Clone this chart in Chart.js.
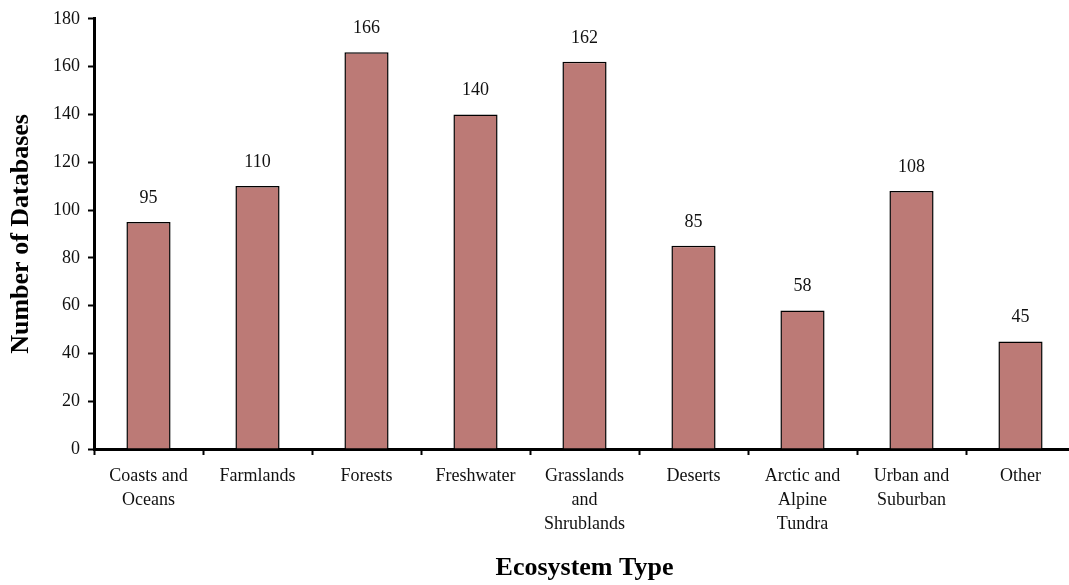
<!DOCTYPE html>
<html>
<head>
<meta charset="utf-8">
<script src="https://cdn.jsdelivr.net/npm/chart.js@4/dist/chart.umd.min.js"></script>
<style>
  html, body { margin: 0; padding: 0; background: #fff; overflow: hidden; }
  #wrap { width: 1076px; height: 585px; }
</style>
</head>
<body>
<div id="wrap"><canvas id="chBar" width="1076" height="585"></canvas></div>
<script>
// chart data
var categories = [
    ['Coasts and', 'Oceans'],
    'Farmlands',
    'Forests',
    'Freshwater',
    ['Grasslands', 'and', 'Shrublands'],
    'Deserts',
    ['Arctic and', 'Alpine', 'Tundra'],
    ['Urban and', 'Suburban'],
    'Other'
];
var databases = [95, 110, 166, 140, 162, 85, 58, 108, 45];
var yTicks = [0, 20, 40, 60, 80, 100, 120, 140, 160, 180];

var serif = "'Liberation Serif', 'Times New Roman', serif";

// value labels above bars
var valueLabels = {
    id: 'valueLabels',
    afterDatasetsDraw: function (chart) {
        var ctx = chart.ctx;
        var meta = chart.getDatasetMeta(0);
        ctx.save();
        ctx.font = '18px ' + serif;
        ctx.fillStyle = '#111';
        ctx.textAlign = 'center';
        ctx.textBaseline = 'middle';
        meta.data.forEach(function (bar, i) {
            ctx.fillText(String(databases[i]), bar.x, bar.y - 24);
        });
        ctx.restore();
    }
};

var barChart = document.getElementById('chBar');
new Chart(barChart, {
    type: 'bar',
    data: {
        labels: categories,
        datasets: [{
            data: databases,
            backgroundColor: '#bc7a76',
            borderColor: '#000',
            borderWidth: 1.5,
            categoryPercentage: 1,
            barPercentage: 0.405
        }]
    },
    options: {
        responsive: false,
        animation: false,
        layout: { padding: { top: 16, right: 1, left: 0, bottom: 0 } },
        plugins: {
            legend: { display: false },
            tooltip: { enabled: false }
        },
        scales: {
            x: {
                offset: true,
                grid: {
                    offset: true,
                    drawOnChartArea: false,
                    drawTicks: true,
                    tickLength: 6,
                    tickColor: '#000',
                    tickWidth: 2
                },
                border: { color: '#000', width: 3 },
                ticks: {
                    color: '#111',
                    padding: 9,
                    maxRotation: 0,
                    autoSkip: false,
                    font: { family: serif, size: 18, lineHeight: 1.333 }
                },
                title: {
                    display: true,
                    text: 'Ecosystem Type',
                    color: '#000',
                    padding: { top: 0, bottom: 1 },
                    font: { family: serif, size: 26, weight: 'bold' }
                },
                afterFit: function (scale) { scale.height = 136; }
            },
            y: {
                min: 0,
                max: 180,
                afterBuildTicks: function (scale) {
                    scale.ticks = yTicks.map(function (v) { return { value: v }; });
                },
                grid: {
                    drawOnChartArea: false,
                    drawTicks: true,
                    tickLength: 6,
                    tickColor: '#000',
                    tickWidth: 2
                },
                border: { color: '#000', width: 3 },
                ticks: {
                    color: '#111',
                    padding: 8,
                    font: { family: serif, size: 18 }
                },
                title: {
                    display: true,
                    text: 'Number of Databases',
                    color: '#000',
                    padding: { top: 6, bottom: 0 },
                    font: { family: serif, size: 26, weight: 'bold' }
                },
                afterFit: function (scale) { scale.width = 94; }
            }
        }
    },
    plugins: [valueLabels]
});
</script>
</body>
</html>
